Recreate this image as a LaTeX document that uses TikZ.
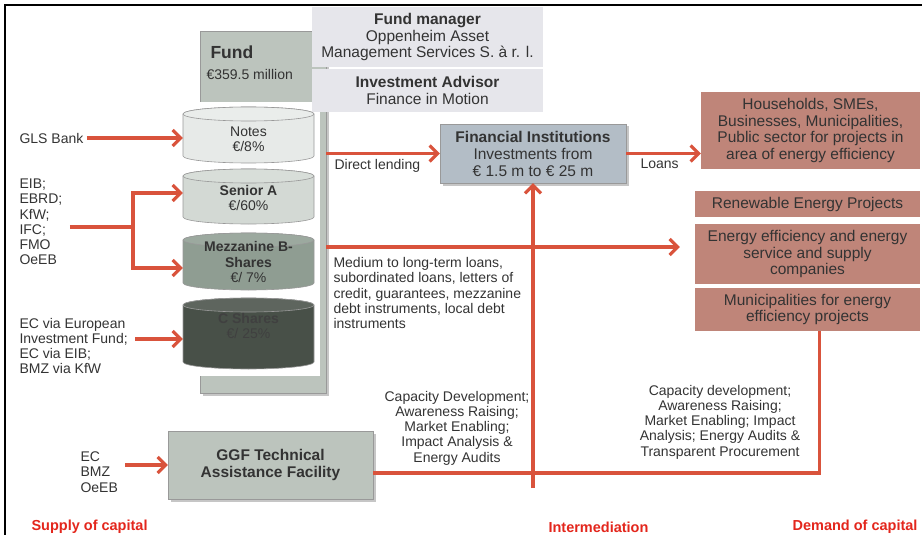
\documentclass[tikz,border=0pt]{standalone}
\usepackage{fontspec}
\setmainfont{Liberation Sans}
\usepackage{tikz}
\usetikzlibrary{arrows.meta,shadows,positioning}

\definecolor{linkred}{HTML}{D9533C}
\definecolor{sidered}{HTML}{E3261C}
\definecolor{txt}{HTML}{333333}
\definecolor{colgray}{HTML}{BCC4BD}
\definecolor{infobg}{HTML}{E6E6EB}
\definecolor{fibg}{HTML}{B3BDC6}
\definecolor{goalbg}{HTML}{BF8579}
\definecolor{notesc}{HTML}{E7EAE8}
\definecolor{seniorc}{HTML}{D3D9D4}
\definecolor{mezzc}{HTML}{8F9D92}
\definecolor{cshc}{HTML}{485048}

\begin{document}
\begin{tikzpicture}[
        x=1pt, y=-1pt,
        >={Straight Barb[length=8pt,width=16pt]},
        font=\fontsize{14}{15.3}\selectfont,
        text=txt,
        link/.style={draw=linkred, line width=3.1pt},
        tank/.style={minimum width=131pt, inner sep=0pt, align=center},
        infobox/.style={fill=infobg, minimum width=231pt, align=center,
            font=\fontsize{15.5}{16.8}\selectfont},
        raised/.style={draw=black!40, align=center,
            font=\fontsize{15.5}{17}\selectfont,
            drop shadow={shadow xshift=2.5pt, shadow yshift=-2.5pt, opacity=.45}},
        goal/.style={fill=goalbg, align=center, font=\fontsize{15.5}{16.5}\selectfont},
        src/.style={anchor=west, align=left},
        side/.style={text=sidered, font=\fontsize{14.5}{16}\selectfont\bfseries}
        ]
        \useasboundingbox (0,0) rectangle (922,535);
        % frame
        \draw[line width=2.5pt] (5,535) -- (5,5) -- (922,5);

        % fund column with the share classes
        \node[fill=colgray, draw=black!40, minimum width=126pt, minimum height=362pt,
              drop shadow={shadow xshift=2.5pt, shadow yshift=-2.5pt, opacity=.45}] (col) at (263,212) {};
        \fill[white] (190,102) rectangle (320,376);
        \node[anchor=west, font=\fontsize{17.5}{20}\selectfont\bfseries] (fund) at (207,52) {Fund};
        \node[anchor=west] (fundsize) at (203,74) {€359.5 million};

        \foreach \nm/\ya/\yb/\fc in {notes/107/163/notesc, senior/169/224/seniorc,
                                     mezz/233/290/mezzc, cshr/298/369/cshc}{
            \path[fill=\fc, draw=black!40, line width=.6pt] (183,\ya+7) -- (183,\yb-7)
                arc[start angle=180, end angle=360, x radius=65.5pt, y radius=7pt]
                -- (314,\ya+7)
                arc[start angle=0, end angle=180, x radius=65.5pt, y radius=7pt] -- cycle;
            \path[fill=\fc!88!white, draw=black!40, line width=.6pt]
                (248.5,\ya+7) ellipse[x radius=65.5pt, y radius=7pt];
        }
        \node[tank] (notes) at (248.5,139) {Notes\\€/8\%};
        \node[tank] (senior) at (248.5,198) {\textbf{Senior A}\\€/60\%};
        \node[tank, text=black!80] (mezz) at (248.5,262) {\textbf{Mezzanine B-}\\\textbf{Shares}\\€/ 7\%};
        \node[tank, text=black!75] (cshr) at (248.5,326) {\textbf{C Shares}\\€/ 25\%};

        % manager and advisor
        \node[infobox, minimum height=60pt] (fm) at (427.5,37) {\textbf{Fund manager}\\Oppenheim Asset\\Management Services S. à r. l.};
        \node[infobox, minimum height=43pt] (ia) at (427.5,90.5) {\textbf{Investment Advisor}\\Finance in Motion};

        % suppliers of capital
        \node[src] (gls) at (16,138) {GLS Bank};
        \node[src] (eib) at (16,222) {EIB;\\EBRD;\\KfW;\\IFC;\\FMO\\OeEB};
        \node[src] (ecsrc) at (16,346) {EC via European\\Investment Fund;\\EC via EIB;\\BMZ via KfW};
        \coordinate (split) at (133,227);
        \draw[link,->] (gls.east) -- (gls.east -| notes.west);
        \draw[link] ([xshift=4pt]eib.east |- split) -- (split);
        \draw[link,->] (split) |- ([yshift=5pt]senior.west);
        \draw[link,->] (split) |- ([yshift=-6pt]mezz.west);
        \draw[link,->] ([xshift=4pt,yshift=7pt]ecsrc.east) -- ([yshift=7pt]ecsrc.east -| cshr.west);

        % intermediation
        \node[raised, fill=fibg, minimum width=186pt, minimum height=59pt] (fi) at (533,153.5)
            {\textbf{Financial Institutions}\\Investments from\\€ 1.5 m to € 25 m};
        \node[raised, fill=colgray, minimum width=205pt, minimum height=68pt,
              font=\fontsize{15.5}{17}\selectfont\bfseries] (ggf) at (270.5,465)
            {GGF Technical\\Assistance Facility};
        \node[src] (ggfsrc) at (77,472) {EC\\BMZ\\OeEB};

        % demand side
        \node[goal, minimum width=219pt, minimum height=77pt] (hh) at (810.5,130.5)
            {Households, SMEs,\\Businesses, Municipalities,\\Public sector for projects in\\area of energy efficiency};
        \node[goal, minimum width=225pt, minimum height=26pt] (re) at (807.5,204) {Renewable Energy Projects};
        \node[goal, minimum width=225pt, minimum height=60pt] (ee) at (807.5,254)
            {Energy efficiency and energy\\service and supply\\companies};
        \node[goal, minimum width=225pt, minimum height=43pt] (muni) at (807.5,309.5)
            {Municipalities for energy\\efficiency projects};

        % flows
        \draw[link,->] (col.east |- fi.west) -- (fi.west);
        \draw[link,->] (fi.east) -- (fi.east -| hh.west);
        \draw[link,->,shorten >=15pt] (col.east |- 0,247) -- (ee.west |- 0,247);
        \coordinate (tabot) at (533,488);
        \draw[link,->] (tabot) -- (fi.south);
        \draw[link] ([yshift=-8pt]ggf.east) -| ([xshift=12pt]muni.south);
        \draw[link,->] ([xshift=4pt]ggfsrc.east |- ggf.west) -- (ggf.west);

        % labels
        \node[anchor=west] (dl) at (331,166) {Direct lending};
        \node[anchor=west] (loans) at (637,164) {Loans};
        \node[src] (medtxt) at (330,293) {Medium to long-term loans,\\subordinated loans, letters of\\credit, guarantees, mezzanine\\debt instruments, local debt\\instruments};
        \node[align=center] (tatxt) at (457,428) {Capacity Development;\\Awareness Raising;\\Market Enabling;\\Impact Analysis \&\\Energy Audits};
        \node[align=center] (dmtxt) at (720,422) {Capacity development;\\Awareness Raising;\\Market Enabling; Impact\\Analysis; Energy Audits \&\\Transparent Procurement};

        \node[side, anchor=west] (supply) at (28,527) {Supply of capital};
        \node[side] (interm) at (598.5,527) {Intermediation};
        \node[side, anchor=east] (demand) at (921,527) {Demand of capital};
\end{tikzpicture}
\end{document}
